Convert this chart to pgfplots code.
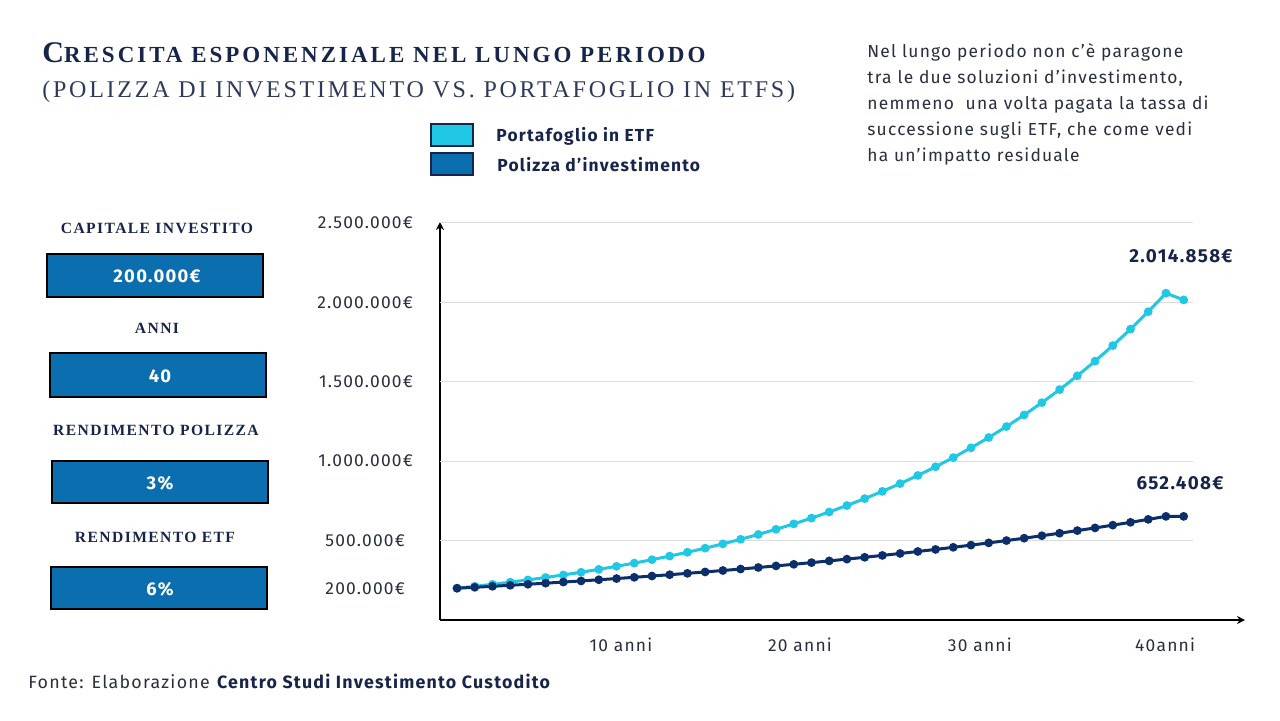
\documentclass[border=0pt]{standalone}
\usepackage{fontspec}
\usepackage{pgfplots}
\usepackage{pgfplotstable}
\pgfplotsset{compat=1.18}
\usetikzlibrary{arrows.meta}
\setmainfont{Fira Sans}[LetterSpace=7]
\newfontfamily\serifcaps{Liberation Serif}[LetterSpace=13]
\newfontfamily\serifcapsB{Liberation Serif}[LetterSpace=11.5]
\newfontfamily\serifcapsC{Liberation Serif}[LetterSpace=9]
\definecolor{navy}{HTML}{17254A}
\definecolor{sub}{HTML}{2E3A5A}
\definecolor{etf}{HTML}{20C8E6}
\definecolor{pol}{HTML}{0C2F6B}
\definecolor{boxblue}{HTML}{0B6EAE}
\definecolor{gridc}{HTML}{DDDDDD}
\definecolor{txt}{HTML}{2A2F3F}

\pgfplotstableread{
x y
0 200000
1 212000
2 224720
3 238203
4 252495
5 267645
6 283704
7 300726
8 318770
9 337896
10 358170
11 379660
12 402439
13 426586
14 452181
15 479312
16 508070
17 538555
18 570868
19 605120
20 641427
21 679913
22 720707
23 763950
24 809787
25 858374
26 909877
27 964469
28 1022337
29 1083678
30 1148698
31 1217620
32 1290677
33 1368118
34 1450205
35 1537217
36 1629450
37 1727217
38 1830850
39 1940702
40 2057144
41 2014858
}\etf

\pgfplotstableread{
x y
0 200000
1 206000
2 212180
3 218545
4 225102
5 231855
6 238810
7 245975
8 253354
9 260955
10 268783
11 276847
12 285152
13 293707
14 302518
15 311593
16 320941
17 330570
18 340487
19 350701
20 361222
21 372059
22 383221
23 394717
24 406559
25 418756
26 431318
27 444258
28 457586
29 471313
30 485452
31 500016
32 515017
33 530467
34 546381
35 562772
36 579656
37 597045
38 614957
39 633405
40 652408
41 652408
}\pol

\begin{document}
\begin{tikzpicture}
\begin{scope}[x=0.5pt,y=-0.5pt]
\path[use as bounding box, fill=white] (0,0) rectangle (1280,720);

% title
\node[anchor=base west, inner sep=0, text=navy] at (42,62)
  {\serifcaps\bfseries{\fontsize{15}{16}\selectfont C}{\fontsize{11.5}{12}\selectfont RESCITA ESPONENZIALE NEL LUNGO PERIODO}};
\node[anchor=base west, inner sep=0, text=sub] at (42,97)
  {\serifcapsB\fontsize{12}{13}\selectfont (POLIZZA DI INVESTIMENTO VS. PORTAFOGLIO IN ETFS)};

% paragraph
\begin{scope}[every node/.style={anchor=base west, inner sep=0, text=txt, font=\fontsize{8.7}{10}\selectfont}]
\node at (867,57) {Nel lungo periodo non c’è paragone};
\node at (867,83) {tra le due soluzioni d’investimento,};
\node at (867,109) {nemmeno\ \ una volta pagata la tassa di};
\node at (867,135) {successione sugli ETF, che come vedi};
\node at (867,161) {ha un’impatto residuale};
\end{scope}

% legend
\draw[fill=etf, draw=navy, line width=1pt] (431,124) rectangle (473,146);
\draw[fill=boxblue, draw=navy, line width=1pt] (431,153) rectangle (473,175);
\node[anchor=base west, inner sep=0, text=navy, font=\bfseries\fontsize{8.7}{10}\selectfont] at (496,141) {Portafoglio in ETF};
\node[anchor=base west, inner sep=0, text=navy, font=\bfseries\fontsize{8.7}{10}\selectfont] at (497,171) {Polizza d’investimento};

% left panel
\begin{scope}[every node/.style={anchor=base, inner sep=0, text=navy, font=\serifcapsC\bfseries\fontsize{7.8}{9}\selectfont}]
\node at (157,233) {CAPITALE INVESTITO};
\node at (157,333) {ANNI};
\node at (156,435) {RENDIMENTO POLIZZA};
\node at (155,542) {RENDIMENTO ETF};
\end{scope}
\draw[fill=boxblue, draw=black, line width=1pt] (47,254) rectangle (263,297);
\draw[fill=boxblue, draw=black, line width=1pt] (50,353) rectangle (266,397);
\draw[fill=boxblue, draw=black, line width=1pt] (52,461) rectangle (268,503);
\draw[fill=boxblue, draw=black, line width=1pt] (51,567) rectangle (267,609);
\begin{scope}[every node/.style={anchor=base, inner sep=0, text=white, font=\bfseries\fontsize{9.2}{10}\selectfont}]
\node at (157,282) {200.000€};
\node at (160,382) {40};
\node at (160,489) {3\%};
\node at (160,595) {6\%};
\end{scope}

% footer
\node[anchor=base west, inner sep=0, text=txt, font=\fontsize{8.9}{10}\selectfont] at (28,688)
  {Fonte: Elaborazione \textbf{\color{navy}Centro Studi Investimento Custodito}};

\node[anchor=base, inner sep=0, text=navy, font=\bfseries\fontsize{9.4}{10}\selectfont] at (1181,262) {2.014.858€};
\node[anchor=base, inner sep=0, text=navy, font=\bfseries\fontsize{9.4}{10}\selectfont] at (1180,489) {652.408€};
\end{scope}

\begin{axis}[
  at={(220pt,-310pt)}, anchor=south west,
  width=402.5pt, height=199pt, scale only axis,
  xmin=-0.96, xmax=44.46, ymin=0, ymax=2505000,
  axis lines=left,
  axis line style={black, line width=1pt, -{Stealth[length=4pt,width=4pt]}},
  clip=false,
  scaled y ticks=false,
  major tick length=0pt,
  xtick={9.25,19.35,29.5,39.95},
  xticklabels={10 anni,20 anni,30 anni,40anni},
  ytick={200000,500000,1000000,1500000,2000000,2500000},
  yticklabels={200.000€\hspace*{4pt},500.000€\hspace*{4pt},1.000.000€,1.500.000€,2.000.000€,2.500.000€},
  /pgf/number format/assume math mode=true,
  ticklabel style={font=\fontsize{8.7}{10}\selectfont, text=txt},
  yticklabel style={xshift=-10pt},
  xticklabel style={yshift=-5.5pt},
]
\foreach \v in {500000,1000000,1500000,2000000,2500000}{
  \edef\temp{\noexpand\draw[gridc, line width=0.6pt] (axis cs:-0.96,\v) -- (axis cs:41.5,\v);}
  \temp
}
\addplot[color=etf, line width=1.5pt, mark=*, mark size=1.4pt, mark options={fill=etf, draw=etf}] table[x=x,y=y] {\etf};
\addplot[color=pol, line width=1.5pt, mark=*, mark size=1.4pt, mark options={fill=pol, draw=pol}] table[x=x,y=y] {\pol};
\end{axis}
\end{tikzpicture}
\end{document}
